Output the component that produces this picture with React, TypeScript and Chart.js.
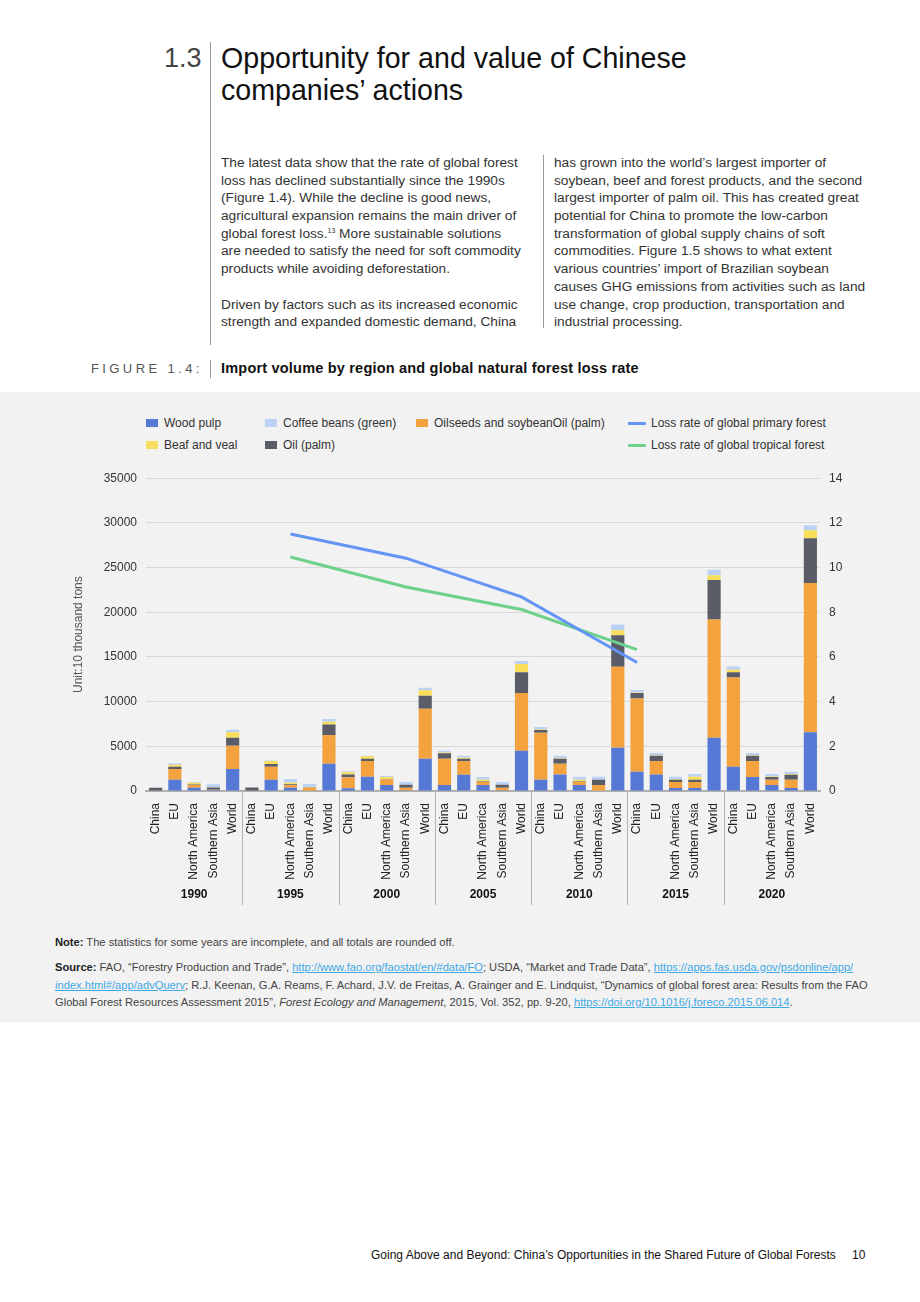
import React, { useEffect, useRef } from "react";
import { Chart, registerables } from "chart.js";

Chart.register(...registerables);

const regions = ["China", "EU", "North America", "Southern Asia", "World"];
const years = ["1990", "1995", "2000", "2005", "2010", "2015", "2020"];

// values in 10 thousand tons, 7 groups x 5 regions
const woodPulp = [
  50, 1270, 370, 120, 2460,
  50, 1270, 370, 50, 3050,
  300, 1600, 670, 80, 3610,
  670, 1830, 670, 80, 4500,
  1270, 1860, 670, 50, 4840,
  2160, 1860, 340, 340, 5960,
  2720, 1570, 670, 340, 6560,
];
const oilseeds = [
  0, 1190, 300, 30, 2610,
  0, 1450, 300, 350, 3210,
  1250, 1750, 630, 290, 5590,
  2940, 1520, 330, 290, 6460,
  5250, 1190, 330, 620, 9060,
  8200, 1490, 660, 660, 13240,
  9980, 1780, 600, 930, 16700,
];
const oilPalm = [
  300, 260, 50, 250, 890,
  350, 300, 80, 30, 1190,
  300, 260, 50, 330, 1460,
  600, 260, 50, 330, 2340,
  300, 560, 50, 600, 3540,
  600, 600, 270, 270, 4400,
  600, 600, 300, 560, 5030,
];
const beef = [
  0, 220, 200, 30, 600,
  0, 330, 180, 30, 300,
  250, 280, 220, 0, 600,
  100, 100, 220, 0, 900,
  50, 50, 220, 0, 560,
  50, 50, 50, 330, 550,
  260, 50, 50, 80, 890,
];
const coffee = [
  0, 160, 80, 320, 300,
  0, 50, 400, 320, 300,
  100, 60, 100, 300, 290,
  190, 240, 300, 300, 340,
  290, 290, 330, 330, 640,
  280, 250, 280, 300, 600,
  380, 250, 280, 250, 560,
];
// loss rates, placed on category indices
const linePointIndex = [7, 13, 19, 25];
const primaryLoss = [11.5, 10.42, 8.69, 5.75];
const tropicalLoss = [10.47, 9.13, 8.12, 6.33];

const leftTicks = [0, 5000, 10000, 15000, 20000, 25000, 30000, 35000];

const C = {
  pulp: "#5579d4",
  coffee: "#bcd2f5",
  oilseeds: "#f3a23e",
  beef: "#f8de5a",
  palm: "#5a5c68",
  primary: "#6495f5",
  tropical: "#6dd18c",
};

const FONT = "'Liberation Sans', Arial, Helvetica, sans-serif";

function lineSeries(vals: number[]) {
  const n = regions.length * years.length;
  const arr: (number | null)[] = new Array(n).fill(null);
  linePointIndex.forEach((idx, i) => (arr[idx] = vals[i]));
  return arr;
}

const groupPlugin = {
  id: "groups",
  afterDraw(chart: any) {
    const xs = chart.scales.x;
    const ctx = chart.ctx;
    const area = chart.chartArea;
    ctx.save();
    ctx.strokeStyle = "#b5b5b5";
    ctx.lineWidth = 1;
    const per = regions.length;
    for (let g = 1; g < years.length; g++) {
      const i = g * per;
      const x = Math.round((xs.getPixelForValue(i - 1) + xs.getPixelForValue(i)) / 2) + 0.5;
      ctx.beginPath();
      ctx.moveTo(x, area.bottom);
      ctx.lineTo(x, area.bottom + 114);
      ctx.stroke();
    }
    ctx.fillStyle = "#111";
    ctx.font = "bold 12px " + FONT;
    ctx.textAlign = "center";
    ctx.textBaseline = "middle";
    years.forEach((y, g) => {
      const x = (xs.getPixelForValue(g * per) + xs.getPixelForValue(g * per + per - 1)) / 2;
      ctx.fillText(y, x, area.bottom + 104);
    });
    ctx.restore();
  },
};

function ChartBox() {
  const ref = useRef<HTMLCanvasElement>(null);
  useEffect(() => {
    if (!ref.current) return;
    const labels = years.flatMap(() => regions);
    const barCommon = {
      type: "bar" as const,
      yAxisID: "y",
      stack: "s",
      categoryPercentage: 0.9,
      barPercentage: 0.76,
      borderWidth: 0,
    };
    const chart = new Chart(ref.current, {
      type: "bar",
      data: {
        labels,
        datasets: [
          { ...barCommon, label: "Wood pulp", data: woodPulp, backgroundColor: C.pulp, order: 2 },
          { ...barCommon, label: "Oilseeds and soybeanOil (palm)", data: oilseeds, backgroundColor: C.oilseeds, order: 2 },
          { ...barCommon, label: "Oil (palm)", data: oilPalm, backgroundColor: C.palm, order: 2 },
          { ...barCommon, label: "Beaf and veal", data: beef, backgroundColor: C.beef, order: 2 },
          { ...barCommon, label: "Coffee beans (green)", data: coffee, backgroundColor: C.coffee, order: 2 },
          {
            type: "line" as const,
            label: "Loss rate of global primary forest",
            data: lineSeries(primaryLoss),
            yAxisID: "y1",
            borderColor: C.primary,
            borderWidth: 3,
            pointRadius: 0,
            spanGaps: true,
            tension: 0,
            order: 1,
          },
          {
            type: "line" as const,
            label: "Loss rate of global tropical forest",
            data: lineSeries(tropicalLoss),
            yAxisID: "y1",
            borderColor: C.tropical,
            borderWidth: 3,
            pointRadius: 0,
            spanGaps: true,
            tension: 0,
            order: 1,
          },
        ] as any,
      },
      options: {
        animation: false,
        responsive: false,
        maintainAspectRatio: false,
        layout: { padding: { left: 60, right: 60, top: 3, bottom: 0 } },
        plugins: { legend: { display: false }, tooltip: { enabled: false } },
        scales: {
          x: {
            stacked: true,
            grid: { display: false },
            border: { color: "#b0b0b0", width: 2 },
            ticks: {
              color: "#222",
              font: { size: 12, family: FONT },
              maxRotation: 90,
              minRotation: 90,
              autoSkip: false,
              padding: 4,
            },
            afterFit(s: any) {
              s.height = 134;
            },
          },
          y: {
            position: "left",
            stacked: true,
            min: 0,
            max: 35000,
            afterBuildTicks(s: any) {
              s.ticks = leftTicks.map((v) => ({ value: v }));
            },
            grid: { color: "#d8d8d8", lineWidth: 1, drawTicks: false },
            border: { display: false },
            ticks: {
              color: "#333",
              font: { size: 12, family: FONT },
              padding: 9,
              callback: (v: any) => String(v),
            },
            title: {
              display: true,
              text: "Unit:10 thousand tons",
              color: "#555",
              font: { size: 12, family: FONT },
              padding: { top: 11, bottom: 0 },
            },
            afterFit(s: any) {
              s.width = 86;
            },
          },
          y1: {
            position: "right",
            min: 0,
            max: 14,
            grid: { display: false, drawTicks: false },
            border: { display: false },
            ticks: { stepSize: 2, color: "#333", font: { size: 12, family: FONT }, padding: 9 },
            afterFit(s: any) {
              s.width = 40;
            },
          },
        },
      } as any,
      plugins: [groupPlugin],
    });
    return () => chart.destroy();
  }, []);
  return (
    <canvas
      ref={ref}
      width={920}
      height={463}
      style={{ position: "absolute", left: 0, top: 462, width: 920, height: 463 }}
    />
  );
}

const legendItems = [
  { label: "Wood pulp", color: C.pulp, kind: "box", x: 146, y: 423 },
  { label: "Coffee beans (green)", color: C.coffee, kind: "box", x: 265, y: 423 },
  { label: "Oilseeds and soybeanOil (palm)", color: C.oilseeds, kind: "box", x: 416, y: 423 },
  { label: "Loss rate of global primary forest", color: C.primary, kind: "line", x: 628, y: 423 },
  { label: "Beaf and veal", color: C.beef, kind: "box", x: 146, y: 445 },
  { label: "Oil (palm)", color: C.palm, kind: "box", x: 265, y: 445 },
  { label: "Loss rate of global tropical forest", color: C.tropical, kind: "line", x: 628, y: 445 },
];

const leftCol = [
  "The latest data show that the rate of global forest",
  "loss has declined substantially since the 1990s",
  "(Figure 1.4). While the decline is good news,",
  "agricultural expansion remains the main driver of",
  "global forest loss.<sup>13</sup> More sustainable solutions",
  "are needed to satisfy the need for soft commodity",
  "products while avoiding deforestation.",
  "",
  "Driven by factors such as its increased economic",
  "strength and expanded domestic demand, China",
];
const rightCol = [
  "has grown into the world’s largest importer of",
  "soybean, beef and forest products, and the second",
  "largest importer of palm oil. This has created great",
  "potential for China to promote the low-carbon",
  "transformation of global supply chains of soft",
  "commodities. Figure 1.5 shows to what extent",
  "various countries’ import of Brazilian soybean",
  "causes GHG emissions from activities such as land",
  "use change, crop production, transportation and",
  "industrial processing.",
];

const link: React.CSSProperties = { color: "#3fa9e6", textDecoration: "underline" };

export default function App() {
  const abs = (s: React.CSSProperties): React.CSSProperties => ({ position: "absolute", ...s });
  const para: React.CSSProperties = {
    fontSize: 13.7,
    lineHeight: "17.7px",
    color: "#333",
    whiteSpace: "nowrap",
  };
  return (
    <div
      style={{
        position: "absolute",
        left: 0,
        top: 0,
        width: 920,
        height: 1302,
        background: "#fff",
        fontFamily: FONT,
        overflow: "hidden",
      }}
    >
      {/* header */}
      <div style={abs({ left: 164, top: 42, fontSize: 27, lineHeight: "32px", color: "#444", fontWeight: 300 })}>1.3</div>
      <div style={abs({ left: 210, top: 42, width: 1, height: 303, background: "#9a9a9a" })} />
      <div style={abs({ left: 221, top: 42, fontSize: 28.6, lineHeight: "32px", color: "#111", whiteSpace: "nowrap" })}>
        Opportunity for and value of Chinese
        <br />
        companies’ actions
      </div>

      {/* paragraphs */}
      <div style={abs({ left: 221, top: 154, ...para })}>
        {leftCol.map((l, i) => (
          <div key={i} style={{ height: 17.7 }} dangerouslySetInnerHTML={{ __html: l.replace("<sup>", '<sup style="font-size:7px;vertical-align:5px;line-height:0">') || "&nbsp;" }} />
        ))}
      </div>
      <div style={abs({ left: 543, top: 155, width: 1, height: 173, background: "#9a9a9a" })} />
      <div style={abs({ left: 554, top: 154, ...para })}>
        {rightCol.map((l, i) => (
          <div key={i} style={{ height: 17.7 }}>{l}</div>
        ))}
      </div>

      {/* figure caption */}
      <div style={abs({ left: 91, top: 361, fontSize: 13, letterSpacing: "3.4px", color: "#555", whiteSpace: "nowrap" })}>FIGURE 1.4:</div>
      <div style={abs({ left: 210, top: 360, width: 1, height: 18, background: "#9a9a9a" })} />
      <div style={abs({ left: 221, top: 360, fontSize: 14.5, letterSpacing: "0.2px", color: "#111", fontWeight: 600, whiteSpace: "nowrap" })}>
        Import volume by region and global natural forest loss rate
      </div>

      {/* grey panel */}
      <div style={abs({ left: 0, top: 392, width: 920, height: 630, background: "#f2f2f2" })} />

      {/* legend */}
      {legendItems.map((it) => (
        <div key={it.label} style={abs({ left: it.x, top: it.y - 8, height: 16, display: "flex", alignItems: "center", whiteSpace: "nowrap" })}>
          {it.kind === "box" ? (
            <span style={{ display: "inline-block", width: 12, height: 8, background: it.color, marginRight: 6 }} />
          ) : (
            <span style={{ display: "inline-block", width: 18, height: 3, background: it.color, marginRight: 5, borderRadius: 1 }} />
          )}
          <span style={{ fontSize: 12, color: "#333" }}>{it.label}</span>
        </div>
      ))}

      <ChartBox />

      {/* notes */}
      <div style={abs({ left: 55, top: 936, fontSize: 11.15, color: "#444", whiteSpace: "nowrap" })}>
        <b style={{ color: "#222" }}>Note:</b> The statistics for some years are incomplete, and all totals are rounded off.
      </div>
      <div style={abs({ left: 55, top: 959, fontSize: 11.15, lineHeight: "17.6px", color: "#444", whiteSpace: "nowrap" })}>
        <div>
          <b style={{ color: "#222" }}>Source:</b> FAO, “Forestry Production and Trade”, <span style={link}>http://www.fao.org/faostat/en/#data/FO</span>; USDA, “Market and Trade Data”, <span style={link}>https://apps.fas.usda.gov/psdonline/app/</span>
        </div>
        <div>
          <span style={link}>index.html#/app/advQuery</span>; R.J. Keenan, G.A. Reams, F. Achard, J.V. de Freitas, A. Grainger and E. Lindquist, “Dynamics of global forest area: Results from the FAO
        </div>
        <div>
          Global Forest Resources Assessment 2015”, <i>Forest Ecology and Management</i>, 2015, Vol. 352, pp. 9-20, <span style={link}>https://doi.org/10.1016/j.foreco.2015.06.014</span>.
        </div>
      </div>

      {/* footer */}
      <div style={abs({ left: 371, top: 1248, fontSize: 12, color: "#111", whiteSpace: "nowrap" })}>
        Going Above and Beyond: China’s Opportunities in the Shared Future of Global Forests
      </div>
      <div style={abs({ left: 852, top: 1248, fontSize: 12, color: "#111" })}>10</div>
    </div>
  );
}
